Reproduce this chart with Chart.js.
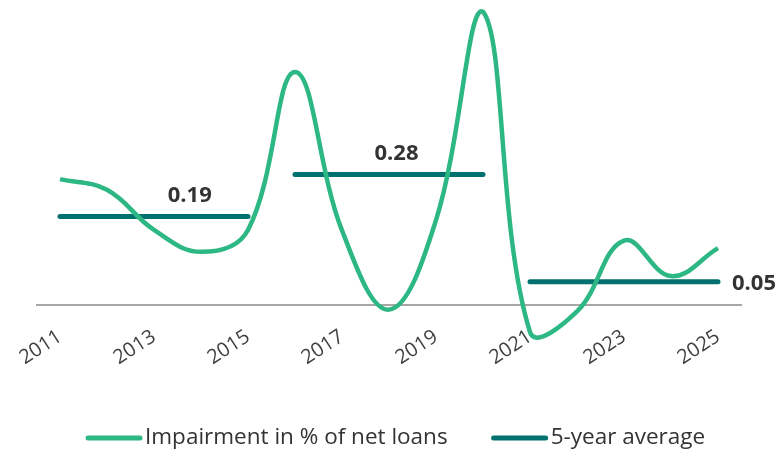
<!DOCTYPE html>
<html>
<head>
<meta charset="utf-8">
<script src="https://cdn.jsdelivr.net/npm/chart.js@4"></script>
<style>
  html, body { margin: 0; padding: 0; background: #fff; }
  #wrap { width: 782px; height: 451px; position: relative; }
</style>
</head>
<body>
<div id="wrap"><canvas id="chart"></canvas></div>
<script>
// Data
const years = ['2011', '2012', '2013', '2014', '2015', '2016', '2017', '2018', '2019', '2020', '2021', '2022', '2023', '2024', '2025'];
const impairment = [0.270, 0.247, 0.161, 0.114, 0.161, 0.500, 0.160, -0.010, 0.182, 0.629, -0.058, -0.014, 0.138, 0.062, 0.122];
const avgValues = [0.19, 0.28, 0.05];
const avgLabels = ['0.19', '0.28', '0.05'];
const avgStart = ['2011', '2016', '2021'];
const avgEnd = ['2015', '2020', '2025'];

const green = '#2db784';
const teal = '#00716e';

// one dataset per 5-year period, so the segments stay apart
const avgSets = avgValues.map((v, i) => ({
  label: '5-year average',
  data: years.map(y => (y >= avgStart[i] && y <= avgEnd[i]) ? v : null),
  borderColor: teal,
  backgroundColor: teal,
  borderWidth: 5,
  borderCapStyle: 'round',
  pointRadius: 0,
  spanGaps: false,
  tension: 0
}));

// value labels for the averages
const avgLabelPlugin = {
  id: 'avgLabels',
  afterDatasetsDraw(chart) {
    const ctx = chart.ctx;
    ctx.save();
    ctx.font = 'bold 22px "Open Sans"';
    ctx.fillStyle = '#333333';
    ctx.textBaseline = 'middle';
    avgLabels.forEach((txt, i) => {
      const pts = chart.getDatasetMeta(i + 1).data.filter(p => !p.skip);
      const first = pts[0], last = pts[pts.length - 1];
      if (i === avgLabels.length - 1) {
        ctx.textAlign = 'left';
        ctx.fillText(txt, last.x + 14, last.y + 2);
      } else {
        ctx.textAlign = 'center';
        const frac = i === 0 ? 0.69 : 0.54;
        ctx.fillText(txt, first.x + (last.x - first.x) * frac, first.y - 21);
      }
    });
    ctx.restore();
  }
};

// legend: line sample right against the text, wide gap between items
const lineLegendPlugin = {
  id: 'lineLegend',
  afterDraw(chart) {
    const ctx = chart.ctx;
    const items = chart.data.datasets.slice(0, 2);
    ctx.save();
    ctx.font = '22.5px "Open Sans"';
    const lineLen = 58, gap = 2, itemGap = 43;
    const widths = items.map(d => lineLen + gap + ctx.measureText(d.label).width);
    let x = 85;
    const y = 438;
    items.forEach((d, i) => {
      ctx.strokeStyle = d.borderColor;
      ctx.lineWidth = 5;
      ctx.lineCap = 'round';
      ctx.beginPath();
      ctx.moveTo(x + 3, y);
      ctx.lineTo(x + lineLen - 3, y);
      ctx.stroke();
      ctx.fillStyle = '#333333';
      ctx.textAlign = 'left';
      ctx.textBaseline = 'middle';
      ctx.fillText(d.label, x + lineLen + gap, y);
      x += widths[i] + itemGap;
    });
    ctx.restore();
  }
};

new Chart(document.getElementById('chart'), {
  type: 'line',
  data: {
    labels: years,
    datasets: [
      {
        label: 'Impairment in % of net loans',
        data: impairment,
        borderColor: green,
        backgroundColor: green,
        borderWidth: 4.5,
        pointRadius: 0,
        tension: 0.4
      },
      ...avgSets
    ]
  },
  options: {
    responsive: true,
    maintainAspectRatio: false,
    animation: false,
    events: [],
    layout: { padding: { left: 36.5, right: 40.5, top: 2, bottom: 40 } },
    plugins: {
      legend: { display: false },
      tooltip: { enabled: false }
    },
    scales: {
      x: {
        position: { y: 0 },
        offset: true,
        grid: { display: false, drawTicks: false },
        border: { display: true, color: '#a6a6a6', width: 2 },
        ticks: {
          autoSkip: false,
          minRotation: 33,
          maxRotation: 33,
          padding: 20,
          color: '#404040',
          font: { family: '"Open Sans"', size: 20 },
          callback: (v, i) => (i % 2 === 0 ? years[i] : '')
        }
      },
      y: {
        display: false,
        min: -0.2275,
        max: 0.65
      }
    }
  },
  plugins: [avgLabelPlugin, lineLegendPlugin]
});
</script>
</body>
</html>
